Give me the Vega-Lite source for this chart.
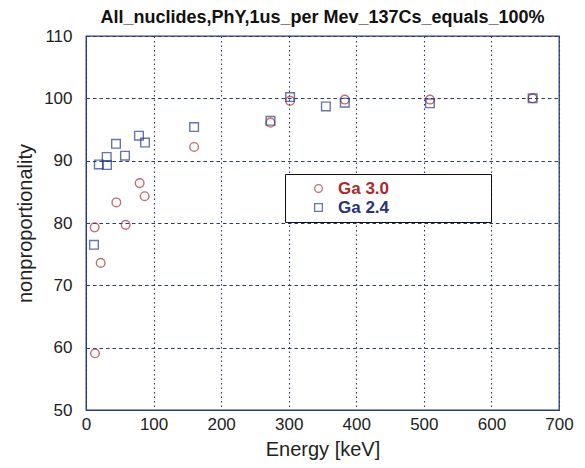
{
  "$schema": "https://vega.github.io/schema/vega-lite/v6.json",
  "autosize": "none",
  "width": 473,
  "height": 374,
  "padding": {"left": 86, "top": 36, "right": 26, "bottom": 58},
  "background": "white",
  "title": {
    "text": "All_nuclides,PhY,1us_per Mev_137Cs_equals_100%",
    "font": "Liberation Sans",
    "fontSize": 18,
    "fontWeight": "bold",
    "color": "#111111",
    "anchor": "middle",
    "offset": 0
  },
  "config": {
    "view": {"stroke": "#2a3a7a", "strokeWidth": 1.3},
    "axis": {
      "labelFont": "Liberation Sans",
      "labelFontSize": 17,
      "labelColor": "#222222",
      "labelFlush": false,
      "titleFont": "Liberation Sans",
      "titleFontSize": 20,
      "titleFontWeight": "normal",
      "titleColor": "#222222",
      "domainColor": "#2a3a7a",
      "ticks": false,
      "gridColor": "#2a3a6a",
      "gridOpacity": 1,
      "gridWidth": 1.1
    }
  },
  "data": {
    "values": [
      {"series": "Ga 3.0", "energy": 13.3, "np": 59.1},
      {"series": "Ga 3.0", "energy": 12.8, "np": 79.3},
      {"series": "Ga 3.0", "energy": 21.7, "np": 73.6},
      {"series": "Ga 3.0", "energy": 44.9, "np": 83.3},
      {"series": "Ga 3.0", "energy": 58.7, "np": 79.7},
      {"series": "Ga 3.0", "energy": 79.4, "np": 86.4},
      {"series": "Ga 3.0", "energy": 86.8, "np": 84.3},
      {"series": "Ga 3.0", "energy": 160, "np": 92.2},
      {"series": "Ga 3.0", "energy": 273, "np": 96.1},
      {"series": "Ga 3.0", "energy": 302, "np": 99.6},
      {"series": "Ga 3.0", "energy": 383, "np": 99.8},
      {"series": "Ga 3.0", "energy": 509, "np": 99.8},
      {"series": "Ga 3.0", "energy": 661, "np": 100.0},
      {"series": "Ga 2.4", "energy": 11.8, "np": 76.5},
      {"series": "Ga 2.4", "energy": 19.0, "np": 89.4},
      {"series": "Ga 2.4", "energy": 31.0, "np": 89.3},
      {"series": "Ga 2.4", "energy": 30.6, "np": 90.6},
      {"series": "Ga 2.4", "energy": 44.4, "np": 92.7},
      {"series": "Ga 2.4", "energy": 57.7, "np": 90.8},
      {"series": "Ga 2.4", "energy": 78.4, "np": 94.0},
      {"series": "Ga 2.4", "energy": 87.3, "np": 92.9},
      {"series": "Ga 2.4", "energy": 160, "np": 95.4},
      {"series": "Ga 2.4", "energy": 273, "np": 96.4},
      {"series": "Ga 2.4", "energy": 302, "np": 100.2},
      {"series": "Ga 2.4", "energy": 355, "np": 98.7},
      {"series": "Ga 2.4", "energy": 383, "np": 99.3},
      {"series": "Ga 2.4", "energy": 509, "np": 99.2},
      {"series": "Ga 2.4", "energy": 661, "np": 100.0}
    ]
  },
  "mark": {"type": "point", "filled": false, "size": 75, "strokeWidth": 1.4},
  "encoding": {
    "x": {
      "field": "energy",
      "type": "quantitative",
      "scale": {"domain": [0, 700], "nice": false},
      "axis": {
        "title": "Energy [keV]",
        "values": [0, 100, 200, 300, 400, 500, 600, 700],
        "grid": true,
        "gridDash": [1.5, 3],
        "labelPadding": 6,
        "titlePadding": 7
      }
    },
    "y": {
      "field": "np",
      "type": "quantitative",
      "scale": {"domain": [50, 110], "nice": false, "zero": false},
      "axis": {
        "title": "nonproportionality",
        "values": [50, 60, 70, 80, 90, 100, 110],
        "grid": true,
        "gridDash": [3.5, 3],
        "labelPadding": 14,
        "titlePadding": 8
      }
    },
    "color": {
      "field": "series",
      "type": "nominal",
      "scale": {"domain": ["Ga 3.0", "Ga 2.4"], "range": ["#a8323a", "#2a3a8a"]},
      "legend": {
        "title": "\u2800\u2800\u2800\u2800\u2800\u2800\u2800\u2800",
        "titleFont": "DejaVu Sans",
        "titleOrient": "right",
        "titleFontSize": 15,
        "titlePadding": 2,
        "orient": "none",
        "legendX": 199,
        "legendY": 138,
        "fillColor": "white",
        "strokeColor": "#111111",
        "padding": 6,
        "rowPadding": 1,
        "symbolOffset": 19,
        "labelOffset": 11,
        "symbolSize": 60,
        "symbolStrokeWidth": 1.3,
        "labelFont": "Liberation Sans",
        "labelFontSize": 17,
        "labelFontWeight": "bold",
        "labelColor": {"expr": "datum.value === 'Ga 3.0' ? '#b0282e' : '#26337f'"}
      }
    },
    "shape": {
      "field": "series",
      "type": "nominal",
      "scale": {"domain": ["Ga 3.0", "Ga 2.4"], "range": ["circle", "square"]},
      "legend": null
    }
  }
}
